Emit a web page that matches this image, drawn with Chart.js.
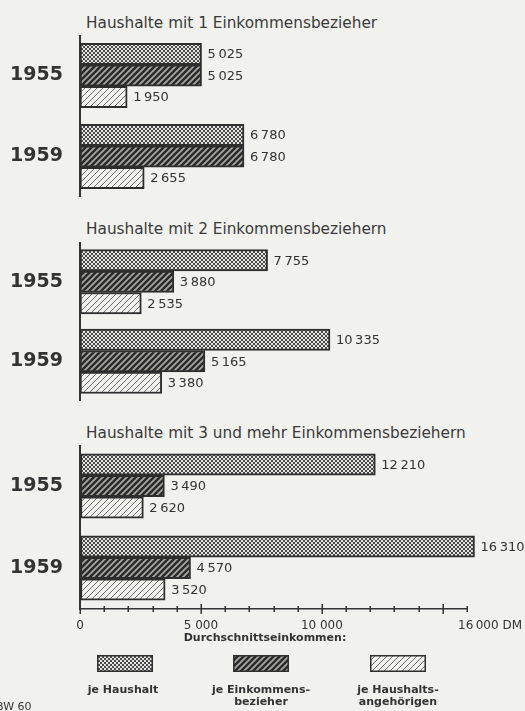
<!DOCTYPE html>
<html>
<head>
<meta charset="utf-8">
<script src="https://cdn.jsdelivr.net/npm/chart.js@4/dist/chart.umd.min.js"></script>
<style>
  body { margin: 0; background: #f1f1ee; }
  #wrap { position: relative; width: 525px; height: 711px; overflow: hidden; color: #333; font-family: "DejaVu Sans", sans-serif; }
  .box { position: absolute; left: 0; width: 525px; }
  .title { position: absolute; left: 86px; font-size: 15.3px; line-height: 15px; white-space: nowrap; color: #3a3a3a; }
  .note { position: absolute; font-size: 11px; font-weight: bold; line-height: 12px; text-align: center; white-space: nowrap; }
  .lg { position: absolute; top: 655px; }
</style>
</head>
<body>
<div id="wrap">
  <div class="title" style="top:16px">Haushalte mit 1 Einkommensbezieher</div>
  <div class="title" style="top:222px">Haushalte mit 2 Einkommensbeziehern</div>
  <div class="title" style="top:426px">Haushalte mit 3 und mehr Einkommensbeziehern</div>
  <div class="box" style="top:35px; height:162px"><canvas id="p1"></canvas></div>
  <div class="box" style="top:242px; height:159px"><canvas id="p2"></canvas></div>
  <div class="box" style="top:445px; height:194px"><canvas id="p3"></canvas></div>
  <div class="note" style="left:165px; width:200px; top:632px">Durchschnittseinkommen:</div>
  <canvas class="lg" id="lg0" width="56" height="17" style="left:97px"></canvas>
  <canvas class="lg" id="lg1" width="56" height="17" style="left:233px"></canvas>
  <canvas class="lg" id="lg2" width="56" height="17" style="left:370px"></canvas>
  <div class="note" style="left:63px; width:120px; top:684px">je Haushalt</div>
  <div class="note" style="left:199px; width:124px; top:684px">je Einkommens-<br>bezieher</div>
  <div class="note" style="left:336px; width:124px; top:684px">je Haushalts-<br>angehörigen</div>
  <div class="note" style="left:-4px; top:701px; font-weight:normal">BW 60</div>
</div>
<script>
const years = ['1955', '1959'];
const seriesNames = ['je Haushalt', 'je Einkommensbezieher', 'je Haushaltsangehörigen'];

// Haushalte mit 1 Einkommensbezieher
const hh1 = [5025, 6780];
const ek1 = [5025, 6780];
const ang1 = [1950, 2655];
// Haushalte mit 2 Einkommensbeziehern
const hh2 = [7755, 10335];
const ek2 = [3880, 5165];
const ang2 = [2535, 3380];
// Haushalte mit 3 und mehr Einkommensbeziehern
const hh3 = [12210, 16310];
const ek3 = [3490, 4570];
const ang3 = [2620, 3520];

const axisMax = 16000;
const tickLabels = { 0: '0', 5000: '5 000', 10000: '10 000' };

function fmt(v) {
    if (v < 1000) return String(v);
    return Math.floor(v / 1000) + '\u2009' + String(v % 1000).padStart(3, '0');
}

function makePattern(size, bg, fg, width, cross) {
    const c = document.createElement('canvas');
    c.width = size; c.height = size;
    const g = c.getContext('2d');
    g.fillStyle = bg;
    g.fillRect(0, 0, size, size);
    g.strokeStyle = fg;
    g.lineWidth = width;
    g.beginPath();
    g.moveTo(-1, size + 1); g.lineTo(size + 1, -1);
    g.moveTo(-1, 1); g.lineTo(1, -1);
    g.moveTo(size - 1, size + 1); g.lineTo(size + 1, size - 1);
    if (cross) {
        g.moveTo(-1, -1); g.lineTo(size + 1, size + 1);
        g.moveTo(size - 1, -1); g.lineTo(size + 1, 1);
        g.moveTo(-1, size - 1); g.lineTo(1, size + 1);
    }
    g.stroke();
    return g.createPattern(c, 'repeat');
}

const fills = [
    makePattern(4, '#e4e4e0', '#4a4a4a', 1, true),
    makePattern(6, '#a4a4a0', '#2a2a2a', 2.4, false),
    makePattern(6, '#f2f2ef', '#6a6a6a', 1, false)
];

const valueLabels = {
    id: 'valueLabels',
    afterDatasetsDraw(chart) {
        const ctx = chart.ctx;
        ctx.save();
        ctx.font = '13px "DejaVu Sans"';
        ctx.fillStyle = '#333';
        ctx.textAlign = 'left';
        ctx.textBaseline = 'middle';
        chart.data.datasets.forEach((ds, i) => {
            chart.getDatasetMeta(i).data.forEach((bar, j) => {
                ctx.fillText(fmt(ds.data[j]), bar.x + 6, bar.y + 1);
            });
        });
        ctx.restore();
    }
};

// ticks crossing the axis line, longer at every 5000, plus the "16 000 DM" end label
const axisTicks = {
    id: 'axisTicks',
    afterDraw(chart) {
        const x = chart.scales.x;
        if (!x.options.display) return;
        const ctx = chart.ctx;
        const y0 = x.top;
        ctx.save();
        ctx.strokeStyle = '#333';
        ctx.lineWidth = 1.5;
        ctx.beginPath();
        x.ticks.forEach(t => {
            const px = Math.round(x.getPixelForValue(t.value)) + 0.25;
            const len = t.value % 5000 === 0 ? 5 : 3;
            ctx.moveTo(px, y0 - len);
            ctx.lineTo(px, y0 + len);
        });
        ctx.stroke();
        ctx.font = '12px "DejaVu Sans"';
        ctx.fillStyle = '#333';
        ctx.textAlign = 'right';
        ctx.textBaseline = 'top';
        ctx.fillText('16\u2009000 DM', 522, y0 + 11);
        ctx.restore();
    }
};

function makePanel(id, hh, ek, ang, showX) {
    const values = [hh, ek, ang];
    return new Chart(document.getElementById(id), {
        type: 'bar',
        data: {
            labels: years,
            datasets: values.map((d, i) => ({
                label: seriesNames[i],
                data: d,
                backgroundColor: fills[i],
                borderColor: '#2e2e2e',
                borderWidth: 2,
                borderSkipped: false,
                barThickness: 21.5,
                clip: false
            }))
        },
        options: {
            indexAxis: 'y',
            responsive: true,
            maintainAspectRatio: false,
            animation: false,
            layout: { padding: { left: 0, right: 58, top: 0, bottom: 0 } },
            plugins: { legend: { display: false }, tooltip: { enabled: false } },
            scales: {
                x: {
                    display: showX,
                    min: 0,
                    max: axisMax,
                    grid: { drawOnChartArea: false, drawTicks: true, tickLength: 5, color: 'rgba(0,0,0,0)' },
                    border: { color: '#333', width: 1.5 },
                    ticks: {
                        stepSize: 1000,
                        autoSkip: false,
                        maxRotation: 0,
                        padding: 5,
                        color: '#333',
                        font: { family: 'DejaVu Sans', size: 12 },
                        callback: v => tickLabels[v] || ''
                    },
                    afterFit: s => { if (showX) s.height = 30; }
                },
                y: {
                    grid: { display: true, drawOnChartArea: false, drawTicks: false },
                    border: { color: '#333', width: 2 },
                    ticks: {
                        padding: 17,
                        color: '#333',
                        font: { family: 'DejaVu Sans', size: 19, weight: 'bold' }
                    },
                    afterFit: s => { s.width = 80; s.paddingTop = 0; s.paddingBottom = 0; }
                }
            }
        },
        plugins: [valueLabels, axisTicks]
    });
}

makePanel('p1', hh1, ek1, ang1, false);
makePanel('p2', hh2, ek2, ang2, false);
makePanel('p3', hh3, ek3, ang3, true);

fills.forEach((f, i) => {
    const g = document.getElementById('lg' + i).getContext('2d');
    g.fillStyle = f;
    g.fillRect(0, 0, 56, 17);
    g.strokeStyle = '#2e2e2e';
    g.lineWidth = 1.5;
    g.strokeRect(0.75, 0.75, 54.5, 15.5);
});
</script>
</body>
</html>
